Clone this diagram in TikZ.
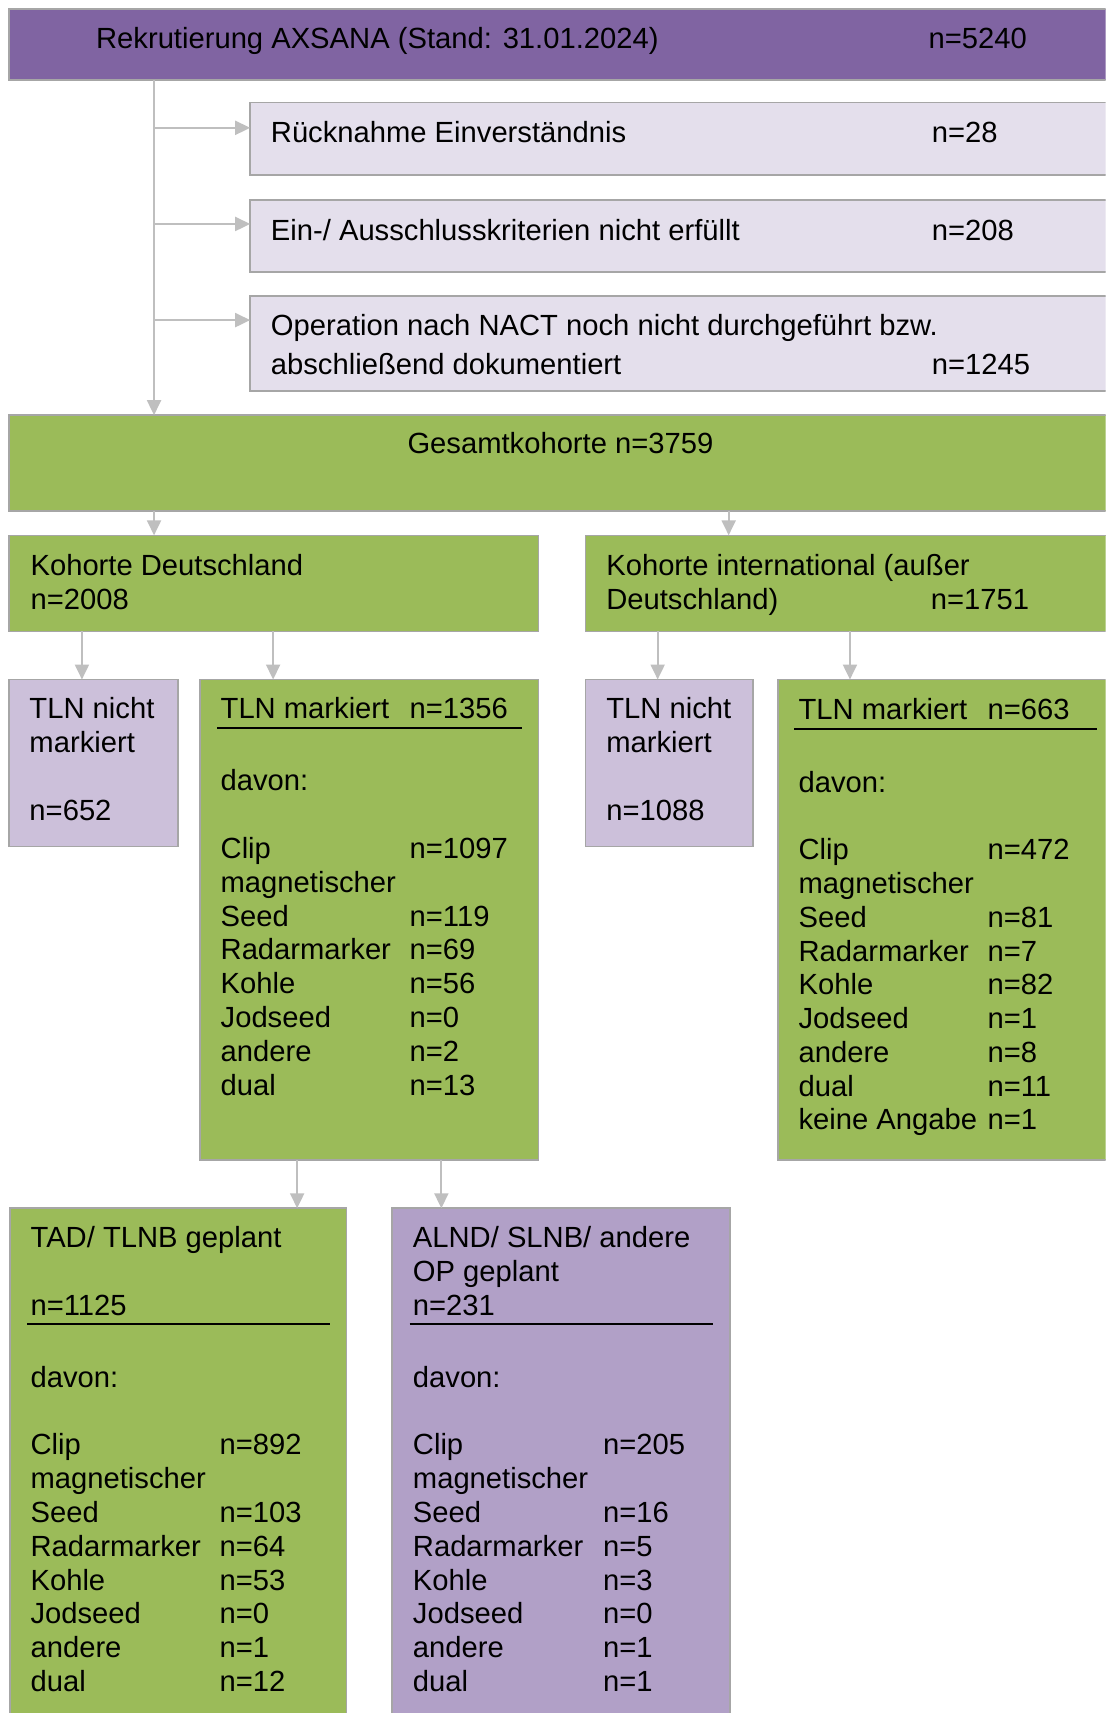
\documentclass[tikz,border=0pt]{standalone}
\usepackage{fontspec}
\setmainfont{Liberation Sans}
\usetikzlibrary{arrows.meta,fit}
\definecolor{hdrpurple}{HTML}{8064A2}
\definecolor{lightlav}{HTML}{E4DFEC}
\definecolor{midlav}{HTML}{CCC0DA}
\definecolor{altpurple}{HTML}{B1A0C7}
\definecolor{grn}{HTML}{9BBB59}
\definecolor{bordergray}{HTML}{A6A6A6}
\definecolor{arrowgray}{HTML}{BFBFBF}
\tikzset{
  box/.style={draw=bordergray, line width=1.6pt, inner sep=0pt, outer sep=0pt},
  txt/.style={anchor=base west, inner sep=0pt, outer sep=0pt, font=\fontsize{29.2}{34}\selectfont},
  ctxt/.style={anchor=base, inner sep=0pt, outer sep=0pt, font=\fontsize{29.2}{34}\selectfont},
  arr/.style={draw=arrowgray, line width=2pt, -{Triangle[length=15pt,width=14pt]}},
  hrule/.style={draw=black, line width=2pt},
}
\begin{document}
\begin{tikzpicture}[x=1.0929pt, y=-1.0929pt]
\useasboundingbox (0,0) rectangle (1012,1568);
\clip (0,0) rectangle (1012,1568);
\fill[white] (0,0) rectangle (1012,1568);

% boxes
\node[box, fill=hdrpurple, fit={(8,8)(1030,73)}] (top) {};
\node[box, fill=lightlav, fit={(229,94)(1030,160)}] (r1) {};
\node[box, fill=lightlav, fit={(229,183)(1030,249)}] (r2) {};
\node[box, fill=lightlav, fit={(229,271)(1030,358)}] (r3) {};
\node[box, fill=grn, fit={(8,380)(1030,468)}] (ges) {};
\node[box, fill=grn, fit={(8,490)(493,578)}] (kd) {};
\node[box, fill=grn, fit={(536,490)(1030,578)}] (ki) {};
\node[box, fill=midlav, fit={(8,622)(163,775)}] (dn) {};
\node[box, fill=grn, fit={(183,622)(493,1062)}] (dm) {};
\node[box, fill=midlav, fit={(536,622)(689,775)}] (in) {};
\node[box, fill=grn, fit={(712,622)(1030,1062)}] (im) {};
\node[box, fill=grn, fit={(9,1106)(317,1600)}] (tad) {};
\node[box, fill=altpurple, fit={(359,1106)(668,1600)}] (alnd) {};

% helper coordinates
\coordinate (c141) at (141,0);
\coordinate (c667) at (667,0);
\coordinate (c75) at (75,0);
\coordinate (c250) at (250,0);
\coordinate (c602) at (602,0);
\coordinate (c778) at (778,0);
\coordinate (c272) at (272,0);
\coordinate (c404) at (404,0);
\coordinate (b1) at (141,117);
\coordinate (b2) at (141,205);
\coordinate (b3) at (141,293);

% connectors
\draw[arr] (top.south -| c141) -- (ges.north -| c141);
\draw[arr] (b1) -- (b1 -| r1.west);
\draw[arr] (b2) -- (b2 -| r2.west);
\draw[arr] (b3) -- (b3 -| r3.west);
\draw[arr] (ges.south -| c141) -- (kd.north -| c141);
\draw[arr] (ges.south -| c667) -- (ki.north -| c667);
\draw[arr] (kd.south -| c75) -- (dn.north -| c75);
\draw[arr] (kd.south -| c250) -- (dm.north -| c250);
\draw[arr] (ki.south -| c602) -- (in.north -| c602);
\draw[arr] (ki.south -| c778) -- (im.north -| c778);
\draw[arr] (dm.south -| c272) -- (tad.north -| c272);
\draw[arr] (dm.south -| c404) -- (alnd.north -| c404);

% rules
\draw[hrule] (199,666) -- (478,666);
\draw[hrule] (727,667) -- (1004,667);
\draw[hrule] (25,1212) -- (302,1212);
\draw[hrule] (375,1212) -- (653,1212);

% texts
\begin{scope}[yshift=-2.2pt]
\node[txt] (t-top) at (88,42) {Rekrutierung AXSANA (Stand: 31.01.2024)};
\node[txt] (t-topn) at (850,42) {n=5240};
\node[txt] (t-r1) at (248,128) {Rücknahme Einverständnis};
\node[txt] (t-r1n) at (853,128) {n=28};
\node[txt] (t-r2) at (248,218) {Ein-/ Ausschlusskriterien nicht erfüllt};
\node[txt] (t-r2n) at (853,218) {n=208};
\node[txt] (t-r3a) at (248,305) {Operation nach NACT noch nicht durchgeführt bzw.};
\node[txt] (t-r3b) at (248,341) {abschließend dokumentiert};
\node[txt] (t-r3n) at (853,341) {n=1245};
\node[ctxt] (t-ges) at (513,413) {Gesamtkohorte n=3759};
\node[txt] (t-kd1) at (28,525) {Kohorte Deutschland};
\node[txt] (t-kd2) at (28,556) {n=2008};
\node[txt] (t-ki1) at (555,525) {Kohorte international (außer};
\node[txt] (t-ki2) at (555,556) {Deutschland)};
\node[txt] (t-ki3) at (852,556) {n=1751};

\node[txt] (t-dn1) at (27,656) {TLN nicht};
\node[txt] (t-dn2) at (27,687) {markiert};
\node[txt] (t-dn3) at (27,749) {n=652};
\node[txt] (t-in1) at (555,656) {TLN nicht};
\node[txt] (t-in2) at (555,687) {markiert};
\node[txt] (t-in3) at (555,749) {n=1088};

\node[txt] (t-dm1) at (202,656) {TLN markiert};
\node[txt] (t-dm2) at (375,656) {n=1356};
\node[txt] (t-dm3) at (202,722) {davon:};
\foreach \a/\b [count=\i from 0] in {Clip/n=1097, magnetischer/, Seed/n=119, Radarmarker/n=69, Kohle/n=56, Jodseed/n=0, andere/n=2, dual/n=13}{
  \node[txt] (dmL\i) at (202,{784+30.9*\i}) {\a};
  \node[txt] (dmR\i) at (375,{784+30.9*\i}) {\b};
}

\node[txt] (t-im1) at (731,657) {TLN markiert};
\node[txt] (t-im2) at (904,657) {n=663};
\node[txt] (t-im3) at (731,723) {davon:};
\foreach \a/\b [count=\i from 0] in {Clip/n=472, magnetischer/, Seed/n=81, Radarmarker/n=7, Kohle/n=82, Jodseed/n=1, andere/n=8, dual/n=11, keine Angabe/n=1}{
  \node[txt] (imL\i) at (731,{785+30.9*\i}) {\a};
  \node[txt] (imR\i) at (904,{785+30.9*\i}) {\b};
}

\node[txt] (t-tad1) at (28,1140) {TAD/ TLNB geplant};
\node[txt] (t-tad2) at (28,1202) {n=1125};
\node[txt] (t-tad3) at (28,1268) {davon:};
\foreach \a/\b [count=\i from 0] in {Clip/n=892, magnetischer/, Seed/n=103, Radarmarker/n=64, Kohle/n=53, Jodseed/n=0, andere/n=1, dual/n=12}{
  \node[txt] (tadL\i) at (28,{1329+31.1*\i}) {\a};
  \node[txt] (tadR\i) at (201,{1329+31.1*\i}) {\b};
}

\node[txt] (t-al1) at (378,1140) {ALND/ SLNB/ andere};
\node[txt] (t-al2) at (378,1171) {OP geplant};
\node[txt] (t-al3) at (378,1202) {n=231};
\node[txt] (t-al4) at (378,1268) {davon:};
\foreach \a/\b [count=\i from 0] in {Clip/n=205, magnetischer/, Seed/n=16, Radarmarker/n=5, Kohle/n=3, Jodseed/n=0, andere/n=1, dual/n=1}{
  \node[txt] (alL\i) at (378,{1329+31.1*\i}) {\a};
  \node[txt] (alR\i) at (552,{1329+31.1*\i}) {\b};
}
\end{scope}
\end{tikzpicture}
\end{document}
